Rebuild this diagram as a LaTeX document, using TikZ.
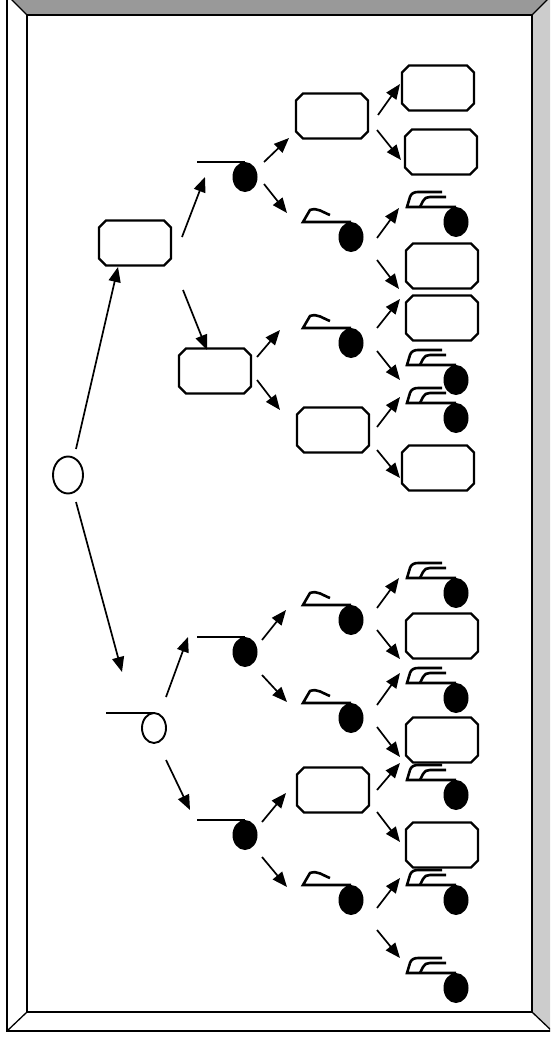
\documentclass[tikz,border=0pt]{standalone}
\usetikzlibrary{arrows.meta,shapes.geometric,calc}
\definecolor{bevdark}{HTML}{999999}
\definecolor{bevlight}{HTML}{CCCCCC}
\tikzset{
 cbox/.style={rectangle,minimum width=72pt,minimum height=45pt,inner sep=0pt,outer sep=0pt},
 boxline/.style={line width=2.2pt,line join=miter},
 blob/.style={ellipse,fill=black,minimum width=25pt,minimum height=30pt,inner sep=0pt,outer sep=0pt},
 ring/.style={ellipse,draw,fill=white,line width=1.9pt,inner sep=0pt,outer sep=0pt},
 glyph/.style={line width=2.6pt,line join=miter},
 arr/.style={line width=1.7pt,-{Triangle[length=15pt,width=12pt]}},
 frameline/.style={line width=1.3pt,line join=miter}
}
\newcommand\mkbox[2]{%
 \node[cbox] (#1) at (#2) {};
 \draw[boxline] ([xshift=7pt]#1.north west) -- ([xshift=-7pt]#1.north east) -- ([yshift=-7pt]#1.north east) -- ([yshift=7pt]#1.south east) -- ([xshift=-7pt]#1.south east) -- ([xshift=7pt]#1.south west) -- ([yshift=7pt]#1.south west) -- ([yshift=-7pt]#1.north west) -- cycle;}
\newcommand\mkplain[2]{%
 \node[blob] (#1) at (#2) {};
 \draw[glyph] (#1.north) -- ++(-48,0);}
\newcommand\mkhat[2]{%
 \node[blob] (#1) at (#2) {};
 \draw[glyph] (#1.north) -- ++(-48,0) -- ++(7,-12) to[out=20,in=160] ++(20,5);}
\newcommand\mkfancy[2]{%
 \node[blob] (#1) at (#2) {};
 \draw[glyph] (#1.north) -- ++(-49,0) -- ++(3,-10) to[out=75,in=180] ++(8,-5) -- ++(24,0);
 \draw[glyph] ([xshift=-36pt]#1.north) -- ++(3,-6) to[out=70,in=180] ++(7,-4) -- ++(16,0);}
\newcommand\conn[4]{\draw[arr] ($(#1)+(#2)$) -- ($(#3)+(#4)$);}
\begin{document}
\begin{tikzpicture}[x=1pt,y=-1pt]
\useasboundingbox (0,0) rectangle (550,1041);
\clip (0,0) rectangle (550,1041);
% frame
\fill[bevdark] (7,-5) -- (552,-5) -- (532,15) -- (27,15) -- cycle;
\fill[bevlight] (552,-5) -- (552,1031) -- (532,1012) -- (532,15) -- cycle;
\draw[frameline] (7,-5) rectangle (552,1031);
\draw[frameline] (27,15) rectangle (532,1012);
\draw[frameline] (7,-5) -- (27,15) (552,-5) -- (532,15) (7,1031) -- (27,1012) (552,1031) -- (532,1012);
% roots
\node[ring,minimum width=30pt,minimum height=37pt] (R0) at (68,475) {};
\node[ring,minimum width=24pt,minimum height=30pt] (R1) at (154,728) {};
\draw[glyph] (R1.north) -- ++(-48,0);
% top half
\mkbox{L1}{135,243}
\mkplain{A1}{245,177}
\mkbox{M}{215,371}
\mkbox{L2}{332,116}
\mkhat{B1}{351,237}
\mkhat{B2}{351,343}
\mkbox{L4}{333,430}
\mkbox{T1}{438,88}
\mkbox{T2}{441,152}
\mkfancy{C1}{456,222}
\mkbox{T3}{442,266}
\mkbox{T4}{442,318}
\mkfancy{C2}{456,380}
\mkfancy{C3}{456,418}
\mkbox{T5}{438,468}
% bottom half
\mkplain{A2}{245,652}
\mkplain{A3}{245,835}
\mkhat{B3}{351,620}
\mkhat{B4}{351,718}
\mkbox{L5}{333,790}
\mkhat{B5}{351,900}
\mkfancy{C4}{456,593}
\mkbox{T6}{442,636}
\mkfancy{C5}{456,698}
\mkbox{T7}{442,740}
\mkfancy{C6}{456,795}
\mkbox{T8}{442,845}
\mkfancy{C7}{456,900}
\mkfancy{C8}{456,988}
% connectors
\conn{R0}{8,-26}{L1}{-17,24}
\conn{R0}{8,27}{R1}{-32,-56}
\conn{L1}{47,-6}{A1}{-40,0}
\conn{L1}{48,47}{M}{-8,-21}
\conn{A1}{19,-15}{L2}{-43,22}
\conn{A1}{19,7}{B1}{-64,-24}
\conn{M}{42,-14}{B2}{-71,-13}
\conn{M}{42,9}{L4}{-53,-20}
\conn{L2}{46,-1}{T1}{-38,-4}
\conn{L2}{45,14}{T2}{-40,8}
\conn{B1}{26,1}{C1}{-57,-14}
\conn{B1}{26,23}{T3}{-43,23}
\conn{B2}{26,-15}{T4}{-42,-19}
\conn{B2}{26,8}{C2}{-56,0}
\conn{L4}{44,-3}{C3}{-56,-21}
\conn{L4}{44,20}{T5}{-38,10}
\conn{R1}{12,-31}{A2}{-57,-15}
\conn{R1}{12,32}{A3}{-55,-25}
\conn{A2}{17,-12}{B3}{-65,-10}
\conn{A2}{17,23}{B4}{-64,-16}
\conn{A3}{17,-13}{L5}{-47,3}
\conn{A3}{17,22}{B5}{-64,-13}
\conn{B3}{26,-12}{C4}{-57,-15}
\conn{B3}{26,10}{T6}{-42,23}
\conn{B4}{26,-13}{C5}{-56,-25}
\conn{B4}{26,9}{T7}{-42,17}
\conn{L5}{44,0}{C6}{-56,-32}
\conn{L5}{44,22}{T8}{-42,-3}
\conn{B5}{26,8}{C7}{-56,-22}
\conn{B5}{26,30}{C8}{-56,-30}
\end{tikzpicture}
\end{document}
